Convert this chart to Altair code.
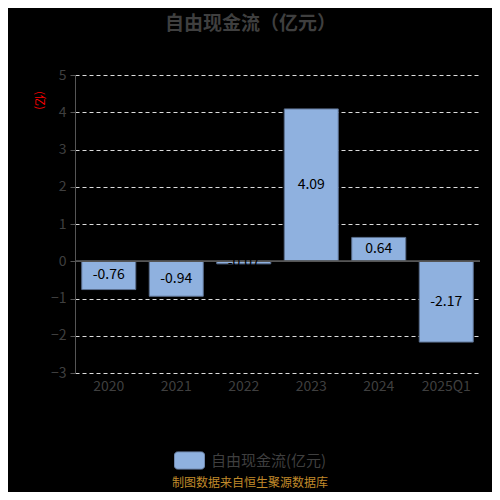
import altair as alt
import pandas as pd

categories = ["2020", "2021", "2022", "2023", "2024", "2025Q1"]
values = [-0.76, -0.94, -0.07, 4.09, 0.64, -2.17]
labels = ["-0.76", "-0.94", "-0.07", "4.09", "0.64", "-2.17"]
series_name = "自由现金流(亿元)"
title_text = "自由现金流（亿元）"
unit_text = "(亿)"
footer_text = "制图数据来自恒生聚源数据库"
y_ticks = [-3, -2, -1, 0, 1, 2, 3, 4, 5]

FONT = "Noto Sans CJK SC"
GRAY = "#3f3f3f"

df = pd.DataFrame({"cat": categories, "val": values, "lab": labels, "series": series_name})
df["mid"] = df["val"] / 2

x_axis = alt.Axis(title=None, labelAngle=0, labelColor=GRAY, labelFontSize=14,
                  labelFont=FONT, ticks=False, domain=False, labelPadding=6, grid=False)
x_scale = alt.Scale(paddingInner=0.2, paddingOuter=0.1)
y_scale = alt.Scale(domain=[-3, 5], nice=False, zero=False)
y_axis = alt.Axis(values=y_ticks, tickCount=9, labelOverlap=False, title=unit_text, titleColor="#ff0000",
                  titleFontSize=11, titleFont=FONT, titleFontWeight="normal", titleAngle=90,
                  titleX=-37, titleY=25, titleAlign="center", titleBaseline="middle",
                  labelColor=GRAY, labelFontSize=14, labelFont=FONT, labelPadding=4,
                  tickColor="#555555", tickSize=5, domainColor="#555555",
                  grid=True, gridColor="#dddddd", gridDash=[4, 3], gridWidth=1.2)

base = alt.Chart(df)

bars = base.mark_bar(stroke="#5b6f8e", strokeWidth=1).encode(
    x=alt.X("cat:N", sort=categories, scale=x_scale, axis=x_axis),
    y=alt.Y("val:Q", scale=y_scale, axis=y_axis),
    y2=alt.datum(0),
    color=alt.Color("series:N", scale=alt.Scale(range=["#8fb1df"]),
                    legend=alt.Legend(title=None, orient="none", legendX=99, legendY=370,
                                      symbolType="M-0.8,-0.57H0.8A0.2,0.2 0 0 1 1,-0.37V0.37A0.2,0.2 0 0 1 0.8,0.57H-0.8A0.2,0.2 0 0 1 -1,0.37V-0.37A0.2,0.2 0 0 1 -0.8,-0.57Z",
                                      symbolSize=900, symbolStrokeColor="#7088ad", symbolStrokeWidth=1,
                                      symbolOpacity=1, labelColor=GRAY, labelFontSize=15, labelFont=FONT,
                                      labelOffset=6, padding=0)),
)

zero = base.mark_rule(color="#555555", strokeWidth=1).encode(
    y=alt.datum(0, type="quantitative", scale=y_scale, axis=y_axis)
)

text = base.mark_text(fontSize=14, font=FONT, color="#000000", baseline="middle").encode(
    x=alt.X("cat:N", sort=categories, scale=x_scale, axis=x_axis),
    y=alt.Y("mid:Q", scale=y_scale, axis=y_axis),
    text="lab:N",
)

footer = alt.Chart(pd.DataFrame({"t": [footer_text]})).mark_text(
    fontSize=12, font=FONT, color="#c08a2a", baseline="middle", align="center"
).encode(x=alt.value(175), y=alt.value(408), text="t:N")

chart = alt.layer(bars, zero, text, footer).properties(
    width=405, height=298,
    title=alt.TitleParams(title_text, anchor="middle", dx=-27, fontSize=19, font=FONT,
                          fontWeight="bold", color=GRAY, offset=34),
    autosize=alt.AutoSizeParams(type="none"),
    padding={"left": 67, "top": 67, "right": 12, "bottom": 119},
    background="#000000",
).configure_view(stroke=None)

chart.save("out.html", embed_options={"renderer": "svg", "actions": False})
